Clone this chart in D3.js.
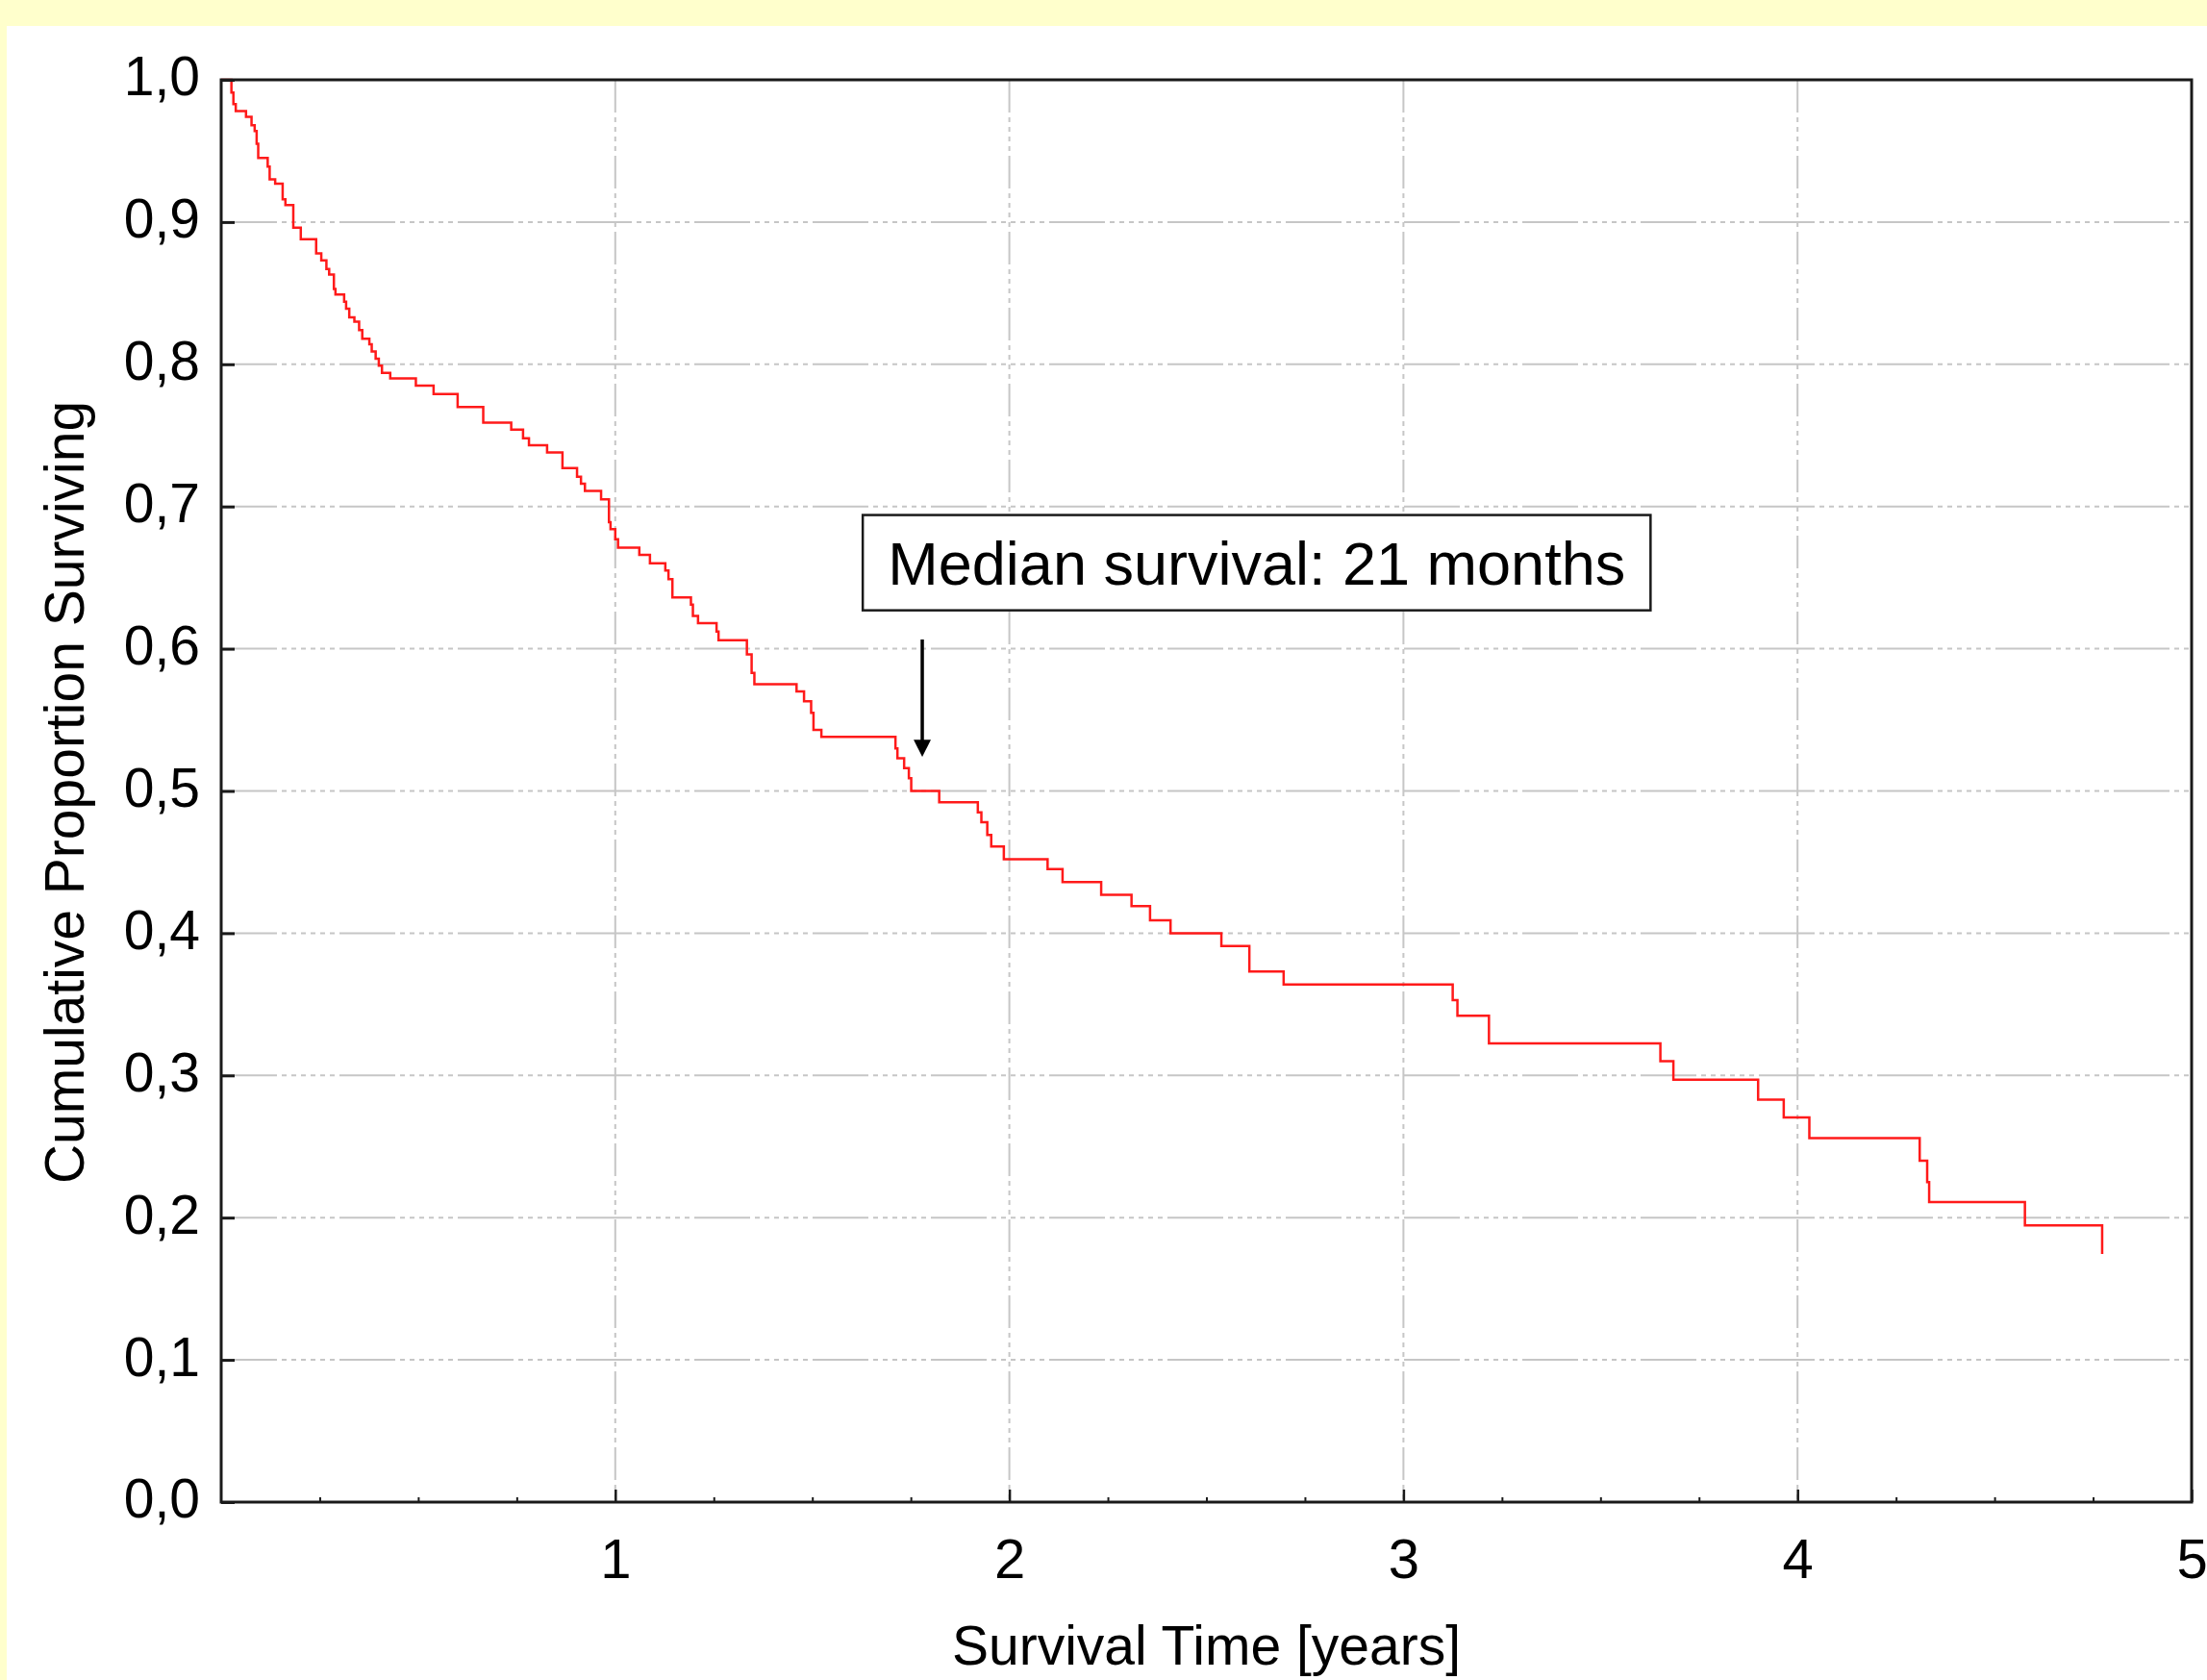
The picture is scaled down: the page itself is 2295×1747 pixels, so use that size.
<!DOCTYPE html>
<html>
<head>
<meta charset="utf-8">
<script src="https://cdn.jsdelivr.net/npm/d3@7"></script>
<style>
  body { margin: 0; background: #fff; }
  text { font-family: "Liberation Sans", Arial, sans-serif; fill: #000; }
</style>
</head>
<body>
<div id="container"></div>
<script>
/* CONSTANTS AND GLOBALS */
const width = 2295;
const height = 1747;
const margin = ({top: 83, right: 16, bottom: 185, left: 230})

/* DATA */
// times (years) where the survival curve drops, and the value it drops to
const times = [0, 0.026, 0.031, 0.037, 0.063, 0.077, 0.085, 0.090, 0.094, 0.118, 0.123, 0.137, 0.156, 0.163, 0.183, 0.202,
  0.241, 0.254, 0.267, 0.274, 0.286, 0.290, 0.312, 0.317, 0.325, 0.338, 0.350, 0.358, 0.376, 0.382, 0.392, 0.400,
  0.408, 0.429, 0.494, 0.539, 0.600, 0.665, 0.736, 0.766, 0.781, 0.827, 0.866, 0.903, 0.913, 0.923, 0.964, 0.984,
  0.988, 1.000, 1.007, 1.061, 1.088, 1.127, 1.135, 1.145, 1.192, 1.197, 1.210, 1.257, 1.262, 1.334, 1.346, 1.353,
  1.460, 1.479, 1.497, 1.503, 1.523, 1.711, 1.716, 1.733, 1.745, 1.751, 1.822, 1.920, 1.929, 1.944, 1.954, 1.986,
  2.097, 2.135, 2.233, 2.310, 2.357, 2.409, 2.538, 2.609, 2.696, 3.125, 3.137, 3.217, 3.652, 3.685, 3.900, 3.965,
  4.030, 4.310, 4.329, 4.334, 4.577, 4.773];
const surviving = [1.0, 0.991, 0.983, 0.978, 0.974, 0.968, 0.964, 0.955, 0.945, 0.939, 0.930, 0.927, 0.916, 0.912, 0.896, 0.888,
  0.878, 0.873, 0.867, 0.863, 0.853, 0.849, 0.844, 0.839, 0.833, 0.830, 0.824, 0.818, 0.814, 0.809, 0.804, 0.799,
  0.794, 0.790, 0.785, 0.779, 0.770, 0.759, 0.754, 0.748, 0.743, 0.738, 0.727, 0.721, 0.716, 0.711, 0.705, 0.689,
  0.684, 0.677, 0.671, 0.666, 0.660, 0.655, 0.649, 0.636, 0.631, 0.623, 0.618, 0.612, 0.606, 0.596, 0.583, 0.575,
  0.570, 0.563, 0.555, 0.543, 0.538, 0.530, 0.523, 0.516, 0.509, 0.500, 0.492, 0.485, 0.478, 0.469, 0.461, 0.452,
  0.445, 0.436, 0.427, 0.419, 0.409, 0.400, 0.391, 0.373, 0.364, 0.353, 0.342, 0.3225, 0.310, 0.297, 0.283, 0.2705,
  0.256, 0.240, 0.225, 0.211, 0.1945, 0.1744];

const xTicks = [1, 2, 3, 4, 5];
const xMinorTicks = [0.25, 0.5, 0.75, 1.25, 1.5, 1.75, 2.25, 2.5, 2.75, 3.25, 3.5, 3.75, 4.25, 4.5, 4.75];
const yTicks = [0, 0.1, 0.2, 0.3, 0.4, 0.5, 0.6, 0.7, 0.8, 0.9, 1.0];
const yGrid = [0.1, 0.2, 0.3, 0.4, 0.5, 0.6, 0.7, 0.8, 0.9];
const xGrid = [1, 2, 3, 4];

const medianLabel = "Median survival: 21 months";
const medianTime = 1.779;   // where the arrow points

const data = times.map((t, i) => ({t: t, s: surviving[i]}));

/* SCALES */
const xScale = d3.scaleLinear()
  .domain([0, 5])
  .range([margin.left, width - margin.right])

const yScale = d3.scaleLinear()
  .domain([0, 1])
  .range([height - margin.bottom, margin.top])

const fmt = d => d3.format(".1f")(d).replace(".", ",");

/* HTML ELEMENTS */
const svg = d3.select("#container")
  .append("svg")
  .attr("width", width)
  .attr("height", height)

// yellow page edge (top + left), white panel
svg.append("rect").attr("width", width).attr("height", height).attr("fill", "#ffffcc")
svg.append("rect").attr("x", 7).attr("y", 27).attr("width", width - 7).attr("height", height - 27).attr("fill", "#fff")

// grid
svg.append("g")
  .selectAll("line")
  .data(yGrid)
  .join("line")
  .attr("x1", xScale(0)).attr("x2", xScale(5))
  .attr("y1", d => yScale(d)).attr("y2", d => yScale(d))
  .attr("stroke", "#c6c6c6")
  .attr("stroke-width", 2)
  .attr("stroke-dasharray", "58,5,5,5,5,5,5,5,5,5,5,5,5,5")

svg.append("g")
  .selectAll("line")
  .data(xGrid)
  .join("line")
  .attr("x1", d => xScale(d)).attr("x2", d => xScale(d))
  .attr("y1", yScale(1)).attr("y2", yScale(0))
  .attr("stroke", "#c6c6c6")
  .attr("stroke-width", 2)
  .attr("stroke-dasharray", "34,5,5,5,5,5,5,5,5,5")

// survival curve
const line = d3.line()
  .x(d => xScale(d.t))
  .y(d => yScale(d.s))
  .curve(d3.curveStepAfter)

svg.append("path")
  .datum(data)
  .attr("fill", "none")
  .attr("stroke", "#ff1a1a")
  .attr("stroke-width", 2.5)
  .attr("d", line)

// axes (ticks point inward)
const yAxis = d3.axisLeft(yScale).tickValues(yTicks).tickSize(-14).tickPadding(22).tickFormat(fmt);
const xAxis = d3.axisBottom(xScale).tickValues(xTicks).tickSize(-13).tickPadding(38).tickFormat(d3.format("d"));
const xMinor = d3.axisBottom(xScale).tickValues(xMinorTicks).tickSize(-5).tickFormat("");

svg.append("g")
  .attr("transform", `translate(${margin.left}, 0)`)
  .call(yAxis)
  .call(g => g.select(".domain").remove())
  .call(g => g.selectAll(".tick line").attr("stroke", "#1a1a1a").attr("stroke-width", 3))
  .selectAll(".tick text")
  .attr("font-size", "57px")
  .attr("dy", "0.28em")

svg.append("g")
  .attr("transform", `translate(0, ${height - margin.bottom})`)
  .call(xAxis)
  .call(g => g.select(".domain").remove())
  .call(g => g.selectAll(".tick line").attr("stroke", "#1a1a1a").attr("stroke-width", 2.5))
  .selectAll(".tick text")
  .attr("font-size", "58px")

svg.append("g")
  .attr("transform", `translate(0, ${height - margin.bottom})`)
  .call(xMinor)
  .call(g => g.select(".domain").remove())
  .call(g => g.selectAll(".tick line").attr("stroke", "#1a1a1a").attr("stroke-width", 2))

// frame
svg.append("rect")
  .attr("x", xScale(0)).attr("y", yScale(1))
  .attr("width", xScale(5) - xScale(0))
  .attr("height", yScale(0) - yScale(1))
  .attr("fill", "none")
  .attr("stroke", "#1a1a1a")
  .attr("stroke-width", 3)

// median annotation
svg.append("rect")
  .attr("x", xScale(1.628)).attr("y", yScale(0.694))
  .attr("width", xScale(3.627) - xScale(1.628))
  .attr("height", yScale(0.627) - yScale(0.694))
  .attr("fill", "#fff")
  .attr("stroke", "#1a1a1a")
  .attr("stroke-width", 2.5)

svg.append("text")
  .attr("x", (xScale(1.628) + xScale(3.627)) / 2)
  .attr("y", yScale(0.645))
  .attr("text-anchor", "middle")
  .attr("font-size", "63px")
  .text(medianLabel)

const ax = xScale(medianTime);
svg.append("line")
  .attr("x1", ax).attr("x2", ax)
  .attr("y1", yScale(0.6065)).attr("y2", yScale(0.535))
  .attr("stroke", "#000")
  .attr("stroke-width", 3.5)

svg.append("path")
  .attr("d", `M${ax - 9},${yScale(0.536)} L${ax + 9},${yScale(0.536)} L${ax},${yScale(0.524)} Z`)
  .attr("fill", "#000")

// axis titles
svg.append("text")
  .attr("x", (xScale(0) + xScale(5)) / 2)
  .attr("y", 1731)
  .attr("text-anchor", "middle")
  .attr("font-size", "57px")
  .text("Survival Time [years]");

svg.append("text")
  .attr("transform", "rotate(-90)")
  .attr("x", -824)
  .attr("y", 87)
  .attr("text-anchor", "middle")
  .attr("font-size", "57px")
  .text("Cumulative Proportion Surviving");
</script>
</body>
</html>
